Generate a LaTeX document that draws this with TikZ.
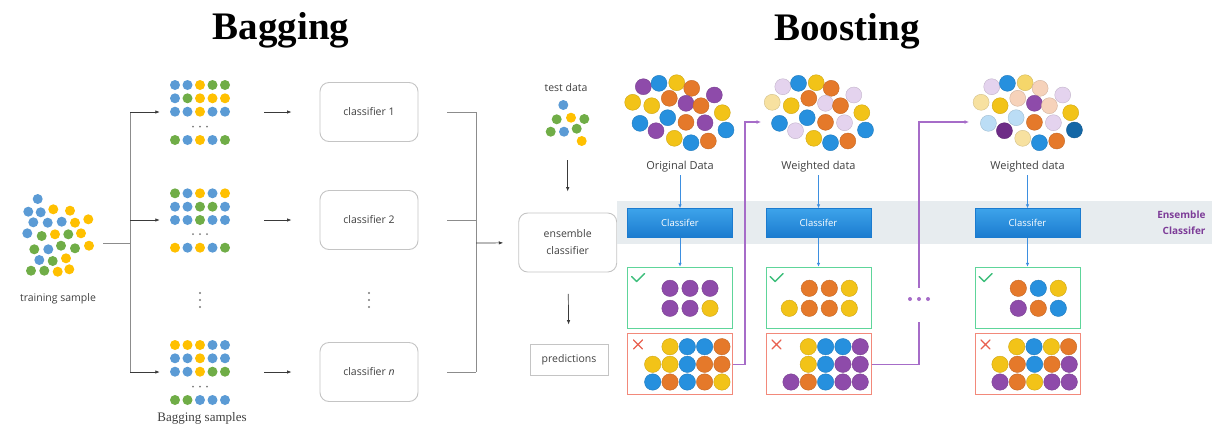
\documentclass[tikz,border=0pt]{standalone}
\usepackage{fontspec}
\setmainfont{Open Sans}
\newfontfamily\headfont{Liberation Serif}
\usetikzlibrary{positioning,arrows.meta}
\definecolor{txtgray}{HTML}{404040}
\definecolor{boxgray}{HTML}{C4C4C4}
\definecolor{brgray}{HTML}{8C8C8C}
\definecolor{arrgray}{HTML}{3A3A3A}
\definecolor{dotgray}{HTML}{7A7A7A}
\definecolor{bgB}{HTML}{5B9BD5}
\definecolor{bgY}{HTML}{FFC000}
\definecolor{bgG}{HTML}{70AD47}
\definecolor{bcP}{HTML}{8E4BAA}
\definecolor{bcB}{HTML}{2690DE}
\definecolor{bcY}{HTML}{F2C318}
\definecolor{bcO}{HTML}{E5792A}
\definecolor{bcL}{HTML}{E4D3EE}
\definecolor{bcM}{HTML}{F7E1A0}
\definecolor{bcX}{HTML}{F5D66A}
\definecolor{bcE}{HTML}{F6D2BA}
\definecolor{bcA}{HTML}{BBDDF5}
\definecolor{bcD}{HTML}{1467A6}
\definecolor{bcV}{HTML}{6E2C87}
\definecolor{clsTop}{HTML}{3DA3EA}
\definecolor{clsBot}{HTML}{1B7BCF}
\definecolor{arrblue}{HTML}{3D8FE0}
\definecolor{bandgray}{HTML}{E7ECEF}
\definecolor{plum}{HTML}{A66CC8}
\definecolor{plumtext}{HTML}{7D3C98}
\definecolor{okgreen}{HTML}{5ED59A}
\definecolor{okmark}{HTML}{3DBE7B}
\definecolor{badred}{HTML}{F2897A}
\definecolor{badmark}{HTML}{E8604F}
\newcommand{\dotrow}[3]{\foreach \c [count=\i from 0] in {#3} \fill[bg=\c] (#2+12.5*\i,#1) circle (5);}
\newcommand{\ballrow}[4]{\foreach \c [count=\i from 0] in {#4} \path[bc=\c] (#1+#3*\i,#2) circle (8.2);}

\begin{document}
\begin{tikzpicture}[x=1pt,y=-1pt,
  lbl/.style={font=\fontsize{10.5}{17}\selectfont,text=txtgray,inner sep=1pt},
  dlbl/.style={font=\fontsize{11}{13}\selectfont,text=txtgray,inner sep=1pt},
  heading/.style={font=\headfont\bfseries\fontsize{39}{44}\selectfont},
  clsnode/.style={lbl,draw=boxgray,line width=0.9pt,rounded corners=9pt,minimum width=98pt,minimum height=59pt,align=center},
  spot/.style={inner sep=0pt,minimum width=104pt,minimum height=62pt},
  arr/.style={-{Latex[length=4.5pt,width=3.5pt]},draw=arrgray,line width=0.7pt},
  gline/.style={draw=brgray,line width=1pt},
  bg/.style={fill=bg#1},
  bc/.style={fill=bc#1,draw=bc#1!85!black,line width=0.4pt},
  boostcls/.style={top color=clsTop,bottom color=clsBot,draw=clsBot,minimum width=105pt,minimum height=29pt,text=white,font=\fontsize{9.5}{11}\selectfont},
  okbox/.style={draw=okgreen,line width=1pt,minimum width=105pt,minimum height=61pt},
  badbox/.style={draw=badred,line width=1pt,minimum width=105pt,minimum height=61.5pt},
  barr/.style={-{Latex[length=4pt,width=3.5pt]},draw=arrblue,line width=0.8pt},
  pline/.style={draw=plum,line width=1.2pt},
  parr/.style={pline,-{Latex[length=4.5pt,width=4pt]}}]
  \useasboundingbox (0,0) rectangle (1212,432);

  \node[heading] (bagging) at (281,30) {Bagging};
  \node[heading] (boosting) at (847,31) {Boosting};

  \foreach \x/\y/\c in {37.7/199/B, 28.3/211.7/B, 40.7/212.3/B, 53.3/209.3/Y, 70/210.7/Y,
      33.3/222.3/B, 47.7/222.7/B, 61.7/221.7/B, 75/222.7/Y, 88.3/219.3/Y,
      27.3/233.3/B, 41.7/236/G, 55/234.3/Y, 68.3/234.3/G, 81/233.3/Y,
      34.3/249.3/G, 48.3/249.3/B, 61/245.7/G, 75/248.3/G, 89/245.7/Y,
      39.3/260/B, 52.7/261/G, 66/258.3/Y,
      31/270.7/G, 44.3/270.7/G, 57.7/271.7/Y, 69.3/269.3/Y}
    \fill[bg=\c] (\x,\y) circle (5);
  \node[minimum width=90pt,minimum height=90pt] (train) at (58,243) {};
  \node[lbl,below=4pt of train] (trainlbl) {training sample};

  \node[spot] (s1) at (212,112) {};
  \node[spot] (s2) at (212,220) {};
  \node[spot] (sn) at (212,372) {};
  \dotrow{85}{175}{B,B,Y,G,G}
  \dotrow{98.3}{175}{B,G,Y,Y,Y}
  \dotrow{111.7}{175}{B,B,Y,B,B}
  \dotrow{140}{175}{G,B,Y,B,G}
  \dotrow{193.3}{175}{G,B,Y,B,Y}
  \dotrow{206.7}{175}{B,B,G,G,B}
  \dotrow{220}{175}{B,B,G,B,B}
  \dotrow{247.7}{175}{Y,B,Y,B,G}
  \dotrow{345}{175}{Y,Y,Y,B,B}
  \dotrow{358.3}{175}{B,B,Y,B,B}
  \dotrow{371.7}{175}{B,B,Y,G,G}
  \dotrow{400}{175}{G,G,B,B,B}
  \foreach \y in {126.7,234,386.7}
    \foreach \i in {-1,0,1} \fill[dotgray] (200+7*\i,\y) circle (1);
  \foreach \x in {200,369}
    \foreach \i in {-1,0,1} \fill[dotgray] (\x,300+7*\i) circle (1.1);
  \node[font=\headfont\fontsize{13}{15}\selectfont,text=txtgray] (baglbl) at (202,418) {Bagging samples};

  \node[clsnode] (k1) at (369,112) {classifier 1};
  \node[clsnode] (k2) at (369,220) {classifier 2};
  \node[clsnode] (kn) at (369,372) {classifier \textit{n}};

  \coordinate (split) at (130,243);
  \coordinate (merge) at (476,243);
  \draw[gline] (train) -- (split);
  \draw[gline] (split |- s1) -- (split |- sn);
  \foreach \s/\k in {s1/k1,s2/k2,sn/kn} {
    \draw[arr] (split |- \s) -- (\s);
    \draw[arr,shorten >=28pt] (\s) -- (\k);
    \draw[gline,shorten <=29pt] (\k) -- (merge |- \k);
  }
  \draw[gline] (merge |- k1) -- (merge |- kn);

  \node[lbl] (test) at (566,88) {test data};
  \foreach \x/\y/\c in {563.3/105/B, 556.7/119.3/G, 571/117.7/Y, 584.3/119/G,
      550.7/131.7/G, 564/131.7/B, 576.7/128.7/G, 581.7/141/Y}
    \fill[bg=\c] (\x,\y) circle (5);
  \node[minimum width=46pt,minimum height=44pt,inner sep=0pt] (testdots) at (567.7,121) {};
  \node[clsnode] (ens) at (567.7,242.5) {ensemble\\classifier};
  \node[lbl,draw=boxgray,line width=0.9pt,minimum width=78pt,minimum height=31pt] (pred) at (569,359.5) {predictions};
  \draw[arr] (merge) -- (ens) [shorten >=15pt];
  \draw[arr,shorten <=17pt,shorten >=21pt] (testdots) -- (ens);
  \draw[arr,shorten <=21.5pt,shorten >=19pt] (ens) -- (pred);

  \fill[bandgray] (617,201) rectangle (1212,244);
  \node[font=\bfseries\fontsize{10}{16}\selectfont,text=plumtext,align=right,anchor=east] (enslbl) at (1209,222.5) {Ensemble\\Classifer};

  \foreach \x/\y/\a/\b/\c in {643.3/86.7/P/L/L, 659/83.3/B/B/B, 676.7/82.7/Y/Y/X, 691.7/88.3/O/O/E, 714.3/95/P/L/L,
      632.7/102.3/Y/M/M, 651.7/105.7/Y/Y/Y, 669.3/98.3/O/O/E, 686/103.3/P/L/P, 701/105.7/O/O/E, 722.3/112.7/Y/Y/Y,
      640/123.3/B/B/A, 656/130.7/P/L/V, 667.7/117.7/B/B/A, 686/122.3/O/O/O, 705/122.7/P/L/L, 726/130/B/B/D,
      674.3/138.3/Y/Y/M, 691/142.7/B/B/B, 708.3/141/O/O/O} {
    \path[bc=\a] (\x,\y) circle (8);
    \path[bc=\b] (\x+139.5,\y) circle (8);
    \path[bc=\c] (\x+348.4,\y) circle (8);
  }
  \node[dlbl] (orig) at (680,166.7) {Original Data};
  \node[dlbl] (wd1) at (818.5,166.7) {Weighted data};
  \node[dlbl] (wd2) at (1027.5,166.7) {Weighted data};

  \node[boostcls] (c1) at (680,223) {Classifer};
  \node[boostcls] (c2) at (818.5,223) {Classifer};
  \node[boostcls] (c3) at (1027.5,223) {Classifer};
  \node[okbox] (g1) at (680,297.8) {};
  \node[okbox] (g2) at (818.5,297.8) {};
  \node[okbox] (g3) at (1027.5,297.8) {};
  \node[badbox] (r1) at (680,364.2) {};
  \node[badbox] (r2) at (818.5,364.2) {};
  \node[badbox] (r3) at (1027.5,364.2) {};
  \foreach \d/\c/\g/\r in {orig/c1/g1/r1, wd1/c2/g2/r2, wd2/c3/g3/r3} {
    \draw[barr,shorten <=2pt] (\d) -- (\c);
    \draw[barr] (\c) -- (\g);
    \draw[okmark,line width=1.4pt,line cap=round,line join=round]
      ([shift={(4.7,9.7)}]\g.north west) -- ++(5,5) -- ++(8,-8);
    \draw[badmark,line width=1.3pt,line cap=round]
      ([shift={(6.5,7)}]\r.north west) -- ++(9,9) ++(0,-9) -- ++(-9,9);
  }

  \ballrow{670}{288.3}{20}{P,P,P}
  \ballrow{670}{308.3}{20}{P,P,Y}
  \ballrow{809.3}{288.3}{20}{O,O,Y}
  \ballrow{789.3}{308.3}{20}{Y,O,O,Y}
  \ballrow{1018.3}{288.3}{20}{O,B,Y}
  \ballrow{1018.3}{308.3}{20}{P,O,B}
  \ballrow{670}{346.7}{17.3}{Y,B,B,O}
  \ballrow{652.7}{364.3}{17.3}{Y,Y,B,O,O}
  \ballrow{652.7}{382}{17.3}{B,O,B,O,Y}
  \ballrow{808.3}{346.7}{17.3}{Y,B,B,P}
  \ballrow{808.3}{364.3}{17.3}{Y,B,P,P}
  \ballrow{791}{382}{17.3}{P,O,B,P,P}
  \ballrow{1016.7}{346.7}{17.3}{Y,B,Y,O}
  \ballrow{1000}{364.3}{17.3}{Y,O,B,O,P}
  \ballrow{1000}{382}{17.3}{P,O,Y,P,P}

  \coordinate (p1) at (745,122);
  \coordinate (w1in) at (761,122);
  \draw[parr] (r1.east) -| (p1) -- (w1in);
  \node[minimum width=24pt,minimum height=34pt,inner sep=0pt] (gap) at (919,305) {};
  \foreach \i in {-1,0,1} \fill[plum] (919+9*\i,299) circle (2);
  \coordinate (p2) at (919,122);
  \coordinate (w2in) at (969,122);
  \draw[pline] (r2.east) -| (gap.south);
  \draw[parr] (gap.north) -- (p2) -- (w2in);
\end{tikzpicture}
\end{document}
